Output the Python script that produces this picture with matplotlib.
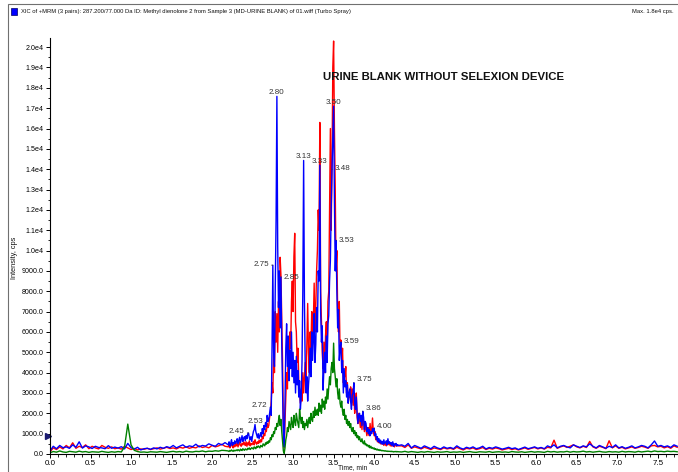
import numpy as np
import matplotlib
matplotlib.use("Agg")
import matplotlib.pyplot as plt
from matplotlib import font_manager as fm
from matplotlib.patches import Rectangle
from matplotlib.ticker import MultipleLocator, FuncFormatter

# ---------------- data ----------------
# early baseline region: t = 0.00 .. step 0.04
blue_early = [150, 380, 260, 420, 310, 350, 280, 450, 330, 600, 290, 400, 350, 270, 380, 320, 300, 260,
              410, 280, 340, 290, 360, 250, 520, 310, 240, 330, 200, 260, 280, 230, 300, 250, 330, 280,
              360, 310, 420, 300, 380, 450, 330, 400, 360, 480, 350, 420, 390, 500, 430, 380, 520, 450, 560]
red_early = [100, 300, 220, 350, 250, 420, 300, 550, 280, 380, 320, 450, 260, 380, 300, 250, 420, 330,
             280, 350, 260, 300, 240, 380, 300, 220, 270, 200, 250, 230, 280, 220, 260, 300, 240, 280,
             330, 270, 300, 250, 330, 290, 350, 280, 330, 300, 400, 320, 360, 300, 420, 350, 400, 480, 380]
green_early = [60, 120, 90, 150, 100, 80, 130, 110, 90, 140, 100, 120, 80, 110, 100, 90, 130, 100,
               80, 110, 90, 120, 100, 350, 1470, 450, 180, 120, 90, 100, 80, 110, 100, 90, 120, 100,
               80, 110, 130, 100, 120, 90, 140, 110, 100, 130, 120, 150, 110, 140, 130, 160, 140, 180, 170]

# elution region: t = 2.20 .. 4.30 step 0.01
blue_peak = [
    450, 600, 380, 520, 700, 420, 560, 480, 650, 520,
    600, 750, 500, 680, 820, 560, 700, 900, 620, 780,
    850, 650, 900, 750, 980, 1030, 800, 700, 850, 620,
    900, 1100, 1200, 1450, 1100, 950, 800, 1000, 750, 900,
    1050, 850, 1250, 1000, 1400, 1200, 1550, 1350, 1900, 1600,
    1700, 2000, 2300, 1900, 5200, 9280, 5000, 4300, 8200, 11500,
    17580, 10200, 7200, 9000, 6200, 8700, 5400, 3200, 900, 350,
    2600, 5200, 6400, 4300, 5800, 3600, 5100, 4200, 6000, 3800,
    5000, 3500, 4600, 3000, 4800, 3400, 4100, 2800, 3600, 2200,
    2800, 4500, 8000, 14430, 7500, 4200, 3000, 3800, 2600, 3400,
    4000, 5200, 3800, 6000, 4600, 5600, 6900, 4500, 5400, 7200,
    6000, 9000, 8500, 14200, 7000, 5500, 6300, 3140, 4200, 5000,
    4000, 5800, 4500, 6400, 6800, 8500, 9500, 12000, 14000, 15500,
    17100, 12500, 9000, 10500, 8000, 6200, 7100, 4600, 5200, 5500,
    4000, 4600, 3000, 4200, 3300, 3600, 2800, 3400, 2500, 3000,
    3200, 2600, 2200, 2900, 3000, 3500, 2500, 2200, 2800, 2000,
    1500, 1900, 2000, 1600, 1900, 1400, 2100, 1800, 1200, 1600,
    1500, 1100, 1300, 1000, 1200, 900, 1100, 1000, 1250, 1100,
    1270, 900, 1000, 700, 850, 600, 750, 550, 680, 500,
    620, 480, 700, 500, 580, 650, 450, 750, 520, 600,
    480, 560, 420, 600, 380, 500, 450, 520, 400, 460, 420]
red_peak = [
    350, 450, 300, 400, 520, 380, 300, 450, 350, 500,
    400, 550, 350, 480, 600, 420, 380, 520, 450, 600,
    500, 420, 600, 380, 550, 450, 650, 400, 520, 450,
    500, 620, 450, 700, 550, 480, 600, 520, 680, 550,
    700, 600, 850, 750, 1000, 900, 1200, 1100, 1500, 1300,
    1400, 1800, 2000, 2600, 3500, 3000, 5000, 4000, 7000, 5500,
    6900, 5000, 7500, 6000, 9670, 8800, 6500, 4500, 1500, 300,
    1500, 2800, 4000, 3200, 5000, 4200, 6000, 5200, 7500, 8500,
    7000, 9700, 10850, 6500, 6000, 4500, 5200, 3600, 3000, 2500,
    3200, 2600, 4000, 3000, 3800, 4500, 3500, 5500, 7400, 5000,
    4000, 6000, 5200, 7000, 5800, 6500, 8400, 6000, 7200, 9000,
    10000, 12000, 11000, 16300, 8000, 6500, 5000, 4200, 5500, 4000,
    5800, 6500, 5000, 7500, 8000, 12000, 16000, 11000, 14000, 19000,
    20300, 16000, 13000, 9000, 10000, 7000, 6000, 7500, 5000, 5600,
    4500, 5200, 3500, 4000, 3800, 4300, 3000, 3500, 2500, 2800,
    2800, 3300, 2500, 3200, 2400, 3000, 2000, 2600, 3000, 1800,
    1500, 2000, 1700, 1300, 1800, 1200, 2000, 1500, 1100, 1400,
    1200, 900, 1100, 1300, 900, 1500, 1000, 1200, 1770, 1100,
    900, 1100, 700, 800, 600, 750, 550, 650, 500, 600,
    480, 600, 420, 550, 500, 400, 620, 450, 520, 480,
    400, 500, 380, 450, 520, 350, 420, 480, 380, 440, 400]
green_peak = [
    150, 120, 180, 140, 200, 160, 130, 190, 150, 170,
    200, 160, 220, 180, 150, 240, 200, 170, 260, 210,
    180, 250, 220, 200, 280, 240, 300, 220, 260, 310,
    280, 240, 350, 300, 260, 380, 320, 400, 350, 300,
    420, 380, 350, 500, 450, 400, 550, 480, 600, 520,
    650, 580, 800, 700, 950, 850, 1100, 1000, 1300, 1200,
    1500, 1350, 1650, 1900, 1400, 1700, 1100, 600, 150, 30,
    300, 700, 900, 1300, 1100, 1600, 1400, 1200, 1800, 1500,
    1300, 1900, 1600, 1400, 2000, 1700, 1500, 1300, 2200, 1800,
    1500, 1800, 1300, 1600, 1200, 1500, 1400, 1700, 1300, 1600,
    1800, 1500, 2000, 1700, 1600, 2100, 1800, 2300, 1900, 2100,
    2200, 1900, 2500, 2100, 2400, 2000, 2700, 2300, 2600, 2200,
    2800, 2500, 3200, 2700, 3300, 3800, 3400, 4200, 4500, 4000,
    5450, 4200, 3800, 3300, 3700, 3000, 2700, 3200, 2500, 2300,
    2600, 2100, 1900, 2200, 1700, 1900, 1500, 1700, 1400, 1600,
    1300, 1500, 1200, 1100, 1300, 1000, 1150, 900, 1050, 800,
    900, 700, 850, 650, 600, 750, 550, 500, 650, 450,
    500, 400, 450, 350, 420, 300, 380, 280, 320, 250,
    300, 220, 260, 200, 240, 180, 220, 170, 200, 160,
    180, 150, 170, 140, 160, 130, 150, 120, 140, 130,
    120, 140, 110, 130, 100, 120, 110, 130, 100, 120, 110]

# late baseline region: t = 4.34 .. step 0.04
blue_late = [
    450, 380, 520, 300, 420, 350, 280, 400, 330, 260,
    380, 300, 250, 350, 280, 320, 260, 400, 300, 240,
    330, 280, 350, 260, 300, 380, 250, 320, 280, 350,
    300, 240, 280, 330, 260, 300, 220, 280, 340, 260,
    300, 350, 280, 320, 260, 400, 330, 450, 300, 380,
    420, 350, 300, 450, 380, 320, 400, 350, 500, 380,
    300, 420, 350, 280, 380, 320, 450, 300, 360, 280,
    330, 400, 300, 350, 420, 380, 300, 450, 640, 380,
    420, 350, 400, 320, 450, 380]
red_late = [
    400, 320, 450, 280, 350, 300, 250, 330, 280, 220,
    300, 260, 220, 300, 250, 280, 230, 330, 260, 200,
    280, 250, 300, 220, 260, 320, 220, 280, 240, 300,
    260, 200, 240, 280, 220, 260, 200, 250, 300, 230,
    280, 320, 250, 300, 240, 330, 300, 680, 280, 350,
    400, 320, 380, 450, 350, 300, 380, 320, 620, 350,
    280, 380, 330, 260, 650, 300, 400, 280, 330, 250,
    300, 350, 280, 320, 380, 340, 280, 400, 420, 350,
    380, 300, 360, 280, 400, 330]
green_late = [
    100, 130, 90, 120, 100, 80, 110, 90, 120, 100,
    80, 110, 90, 100, 120, 80, 100, 90, 110, 80,
    100, 120, 90, 80, 110, 100, 90, 120, 80, 100,
    110, 90, 100, 80, 120, 100, 90, 110, 80, 100,
    120, 90, 110, 100, 80, 130, 100, 120, 90, 110,
    100, 130, 90, 120, 100, 110, 140, 100, 120, 90,
    110, 130, 100, 90, 120, 100, 110, 90, 130, 100,
    120, 110, 90, 130, 100, 120, 140, 110, 150, 120,
    130, 110, 140, 120, 130, 110]

peak_labels = ["2.45", "2.53", "2.72", "2.75", "2.80", "2.85", "3.13", "3.33",
               "3.48", "3.50", "3.53", "3.59", "3.75", "3.86", "4.00"]

header = ("XIC of +MRM (3 pairs): 287.200/77.000 Da ID: Methyl dienolone 2 from Sample 3 "
          "(MD-URINE BLANK) of 01.wiff (Turbo Spray)")
max_text = "Max. 1.8e4 cps."
title = "URINE BLANK WITHOUT SELEXION DEVICE"
xlabel = "Time, min"
ylabel = "Intensity, cps"

# ---------------- assemble series ----------------
T0_EARLY, DT_BASE = 0.0, 0.04
T0_PEAK, DT_PEAK = 2.20, 0.01
T0_LATE = 4.34


def series(early, peak, late):
    t = np.concatenate([T0_EARLY + DT_BASE * np.arange(len(early)),
                        T0_PEAK + DT_PEAK * np.arange(len(peak)),
                        T0_LATE + DT_BASE * np.arange(len(late))])
    y = np.concatenate([early, peak, late]).astype(float)
    return t, y


tb, yb = series(blue_early, blue_peak, blue_late)
tr, yr = series(red_early, red_peak, red_late)
tg, yg = series(green_early, green_peak, green_late)

# ---------------- fonts ----------------
names = {f.name for f in fm.fontManager.ttflist}
narrow = "Liberation Sans Narrow" in names
FAM = ["Liberation Sans Narrow", "Liberation Sans", "DejaVu Sans"] if narrow else ["Liberation Sans", "DejaVu Sans"]
sc = 1.0 if narrow else 0.82
plt.rcParams["font.family"] = FAM

# ---------------- figure ----------------
W, H = 678, 472
fig = plt.figure(figsize=(W / 100, H / 100), dpi=100)
ax = fig.add_axes([50 / W, 18 / H, 628 / W, 416 / H])

ax.plot(tr, yr, color="#ff0000", lw=1.0)
ax.plot(tb, yb, color="#0000ff", lw=1.0)
ax.plot(tg, yg, color="#008000", lw=1.0)

ax.set_xlim(0, 7.75)
ax.set_ylim(0, 20450)
for s in ("top", "right"):
    ax.spines[s].set_visible(False)
for s in ("left", "bottom"):
    ax.spines[s].set_linewidth(0.8)

ax.xaxis.set_major_locator(MultipleLocator(0.5))
ax.xaxis.set_minor_locator(MultipleLocator(0.1))
ax.yaxis.set_major_locator(MultipleLocator(1000))
ax.yaxis.set_minor_locator(MultipleLocator(500))
ax.xaxis.set_major_formatter(FuncFormatter(lambda v, p: f"{v:.1f}"))
ax.yaxis.set_major_formatter(FuncFormatter(
    lambda v, p: f"{v:.1f}" if v < 9999 else f"{v / 1e4:.1f}e4"))
ax.tick_params(which="major", length=3, width=0.7, pad=1.5)
ax.tick_params(which="minor", length=1.8, width=0.6)
ax.tick_params(axis="x", labelsize=7 * sc, pad=1.0)
ax.tick_params(axis="y", labelsize=6.3 * sc)

# threshold marker on the y axis
ax.plot([-0.025], [880], marker=">", ms=4, color="#1a1a70", clip_on=False)

# peak labels: (dx px, dy px, ha, va, leader)
style = {
    "2.45": (-4, 2, "right", "center", True),
    "2.53": (0, 2, "center", "baseline", False),
    "2.72": (-3, 2, "right", "center", True),
    "2.75": (-4, 1, "right", "center", True),
    "2.80": (0, 2, "center", "baseline", False),
    "2.85": (3, 0, "left", "center", True),
    "3.13": (0, 2, "center", "baseline", False),
    "3.33": (0, 2, "center", "baseline", False),
    "3.48": (3, 1, "left", "center", True),
    "3.50": (0, 2, "center", "baseline", False),
    "3.53": (3, 0, "left", "center", True),
    "3.59": (3, 1, "left", "center", True),
    "3.75": (3, 3, "left", "center", True),
    "3.86": (3, 3, "left", "center", True),
    "4.00": (3, 2, "left", "center", True),
}
for lab in peak_labels:
    t = float(lab)
    i = int(round((t - T0_PEAK) / DT_PEAK))
    v = blue_peak[i]
    dx, dy, ha, va, lead = style[lab]
    ap = dict(arrowstyle="-", lw=0.6, color="#333333", shrinkA=0, shrinkB=0) if lead else None
    ax.annotate(lab, xy=(t, v), xytext=(dx * 0.72, dy * 0.72), textcoords="offset points",
                ha=ha, va=va, fontsize=7 * sc, color="#333333", arrowprops=ap, zorder=5)

ax.text(323 / W, 1 - 77 / H, title, transform=fig.transFigure, ha="left", va="center",
        fontsize=10.0 * sc, fontweight="bold", color="#111111")

# frame and header
fig.add_artist(Rectangle((8 / W, -0.1), 1.2, (H - 4) / H + 0.1, transform=fig.transFigure,
                         fill=False, ec="#707070", lw=0.8))
fig.add_artist(Rectangle((11 / W, 1 - 15 / H), 6 / W, 7 / H, transform=fig.transFigure,
                         fc="#0000ff", ec="#000060", lw=0.5))
fig.text(21 / W, 1 - 12 / H, header, ha="left", va="center", fontsize=5.2 * sc, color="#111111")
fig.text(632 / W, 1 - 12 / H, max_text, ha="left", va="center", fontsize=5.2 * sc, color="#111111")

fig.text(14 / W, 1 - 258 / H, ylabel, rotation=90, ha="center", va="center",
         fontsize=6.5 * sc, color="#111111")
fig.text(353 / W, 0.5 / H, xlabel, ha="center", va="bottom", fontsize=5.8 * sc, color="#111111")

fig.savefig("out.png", dpi=100)
